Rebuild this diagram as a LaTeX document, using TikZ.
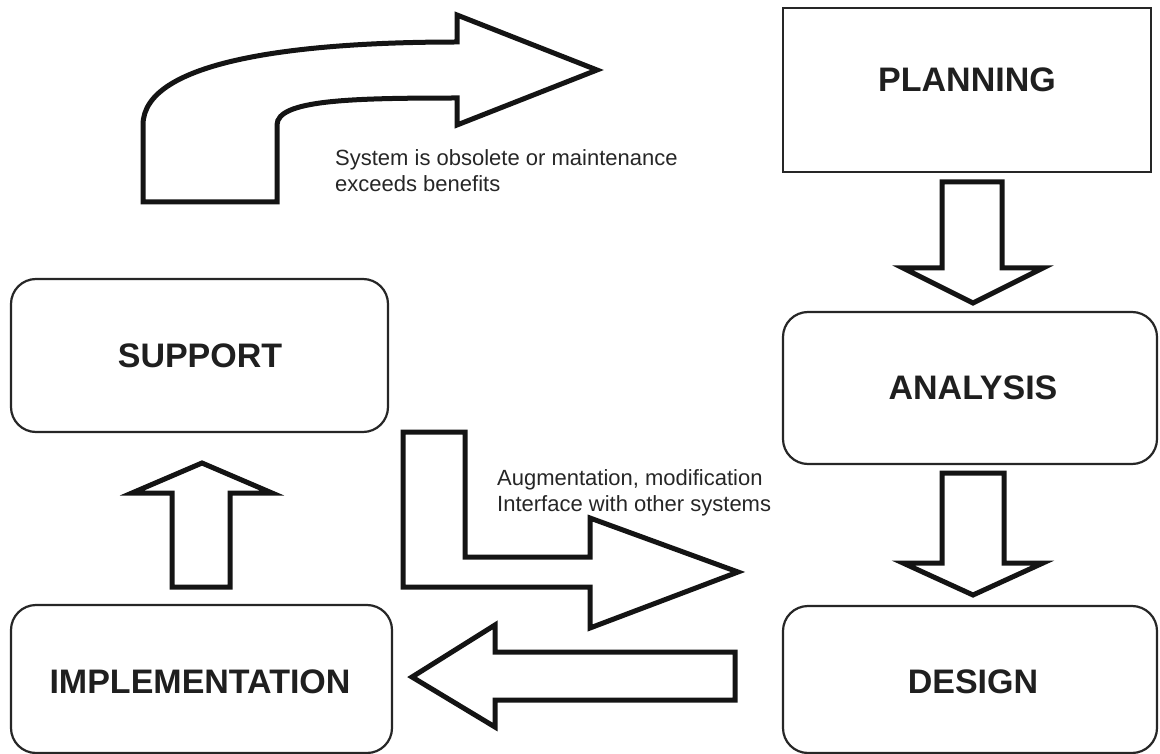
\documentclass[tikz,border=0pt]{standalone}
\usepackage{fontspec}
\setmainfont{Liberation Sans}
\begin{document}
\begin{tikzpicture}[x=1pt,y=-1pt,
  stagebox/.style={draw=black!85, line width=2.2pt, rounded corners=25pt, fill=white, inner sep=0pt},
  planbox/.style={draw=black!85, line width=2.8pt, fill=white, inner sep=0pt},
  blockarrow/.style={draw=black!92, line width=5pt, fill=white, line join=miter, miter limit=10},
  stagelabel/.style={font=\fontsize{34}{40}\selectfont\bfseries, text=black!88, inner sep=0pt},
  note/.style={font=\fontsize{22}{26}\selectfont, text=black!85, align=left, inner sep=0pt, anchor=north west}]
\useasboundingbox (0,0) rectangle (1160,754);

% life-cycle stages
\node[planbox, minimum width=368pt, minimum height=164pt] (plan) at (967,90) {};
\node[stagebox, minimum width=374pt, minimum height=152pt] (ana) at (970,388) {};
\node[stagebox, minimum width=374pt, minimum height=147pt] (des) at (970,679.5) {};
\node[stagebox, minimum width=377pt, minimum height=153pt] (sup) at (199.5,355.5) {};
\node[stagebox, minimum width=381pt, minimum height=148pt] (imp) at (201.5,679) {};

\node[stagelabel] (planlbl) at (967,80) {PLANNING};
\node[stagelabel] (analbl) at (973,388) {ANALYSIS};
\node[stagelabel] (deslbl) at (973,682) {DESIGN};
\node[stagelabel] (suplbl) at (200,356) {SUPPORT};
\node[stagelabel] (implbl) at (200,682) {IMPLEMENTATION};

% planning -> analysis
\draw[blockarrow] (942,182) -- (1002,182) -- (1002,268) -- (1043,268) -- (973,303)
  -- (903,268) -- (942,268) -- cycle;
% analysis -> design
\draw[blockarrow] (942,473) -- (1004,473) -- (1004,563) -- (1043,563) -- (973,595)
  -- (903,563) -- (942,563) -- cycle;
% design -> implementation
\draw[blockarrow] (735,652) -- (735,700) -- (495,700) -- (495,727) -- (412,677)
  -- (495,625) -- (495,652) -- cycle;
% implementation -> support
\draw[blockarrow] (172,587) -- (230,587) -- (230,493) -- (272,493) -- (202,463)
  -- (132,493) -- (172,493) -- cycle;
% support -> design (maintenance loop)
\draw[blockarrow] (403,432) -- (465,432) -- (465,557) -- (590,557) -- (590,518)
  -- (738,572) -- (590,628) -- (590,587) -- (403,587) -- cycle;
% support -> planning (replacement)
\draw[blockarrow] (143,202) -- (143,125) .. controls (143,60) and (300,42) .. (457,42)
  -- (457,15) -- (597,70) -- (457,125) -- (457,98)
  .. controls (350,98) and (277,100) .. (277,125) -- (277,202) -- cycle;

\node[note] (obsolete) at (335,149) {System is obsolete or maintenance\\exceeds benefits};
\node[note] (augment) at (497,469) {Augmentation, modification\\Interface with other systems};
\end{tikzpicture}
\end{document}
